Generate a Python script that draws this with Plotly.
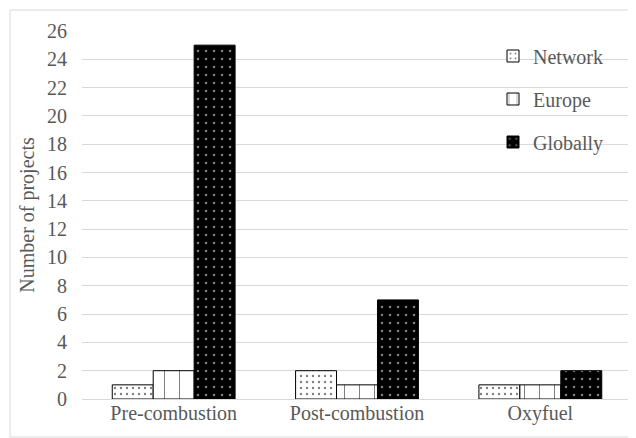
import plotly.graph_objects as go

categories = ["Pre-combustion", "Post-combustion", "Oxyfuel"]
network = [1, 2, 1]
europe = [2, 1, 1]
globally = [25, 7, 2]
y_ticks = list(range(0, 27, 2))

font_family = "Liberation Serif, Times New Roman, serif"
grey = "#595959"
fs = 20

W, H = 628, 430
ML, MR, MT, MB = 74, 4, 23, 39
PW = W - ML - MR
PH = H - MT - MB


def px_x(fx):
    return (fx - ML) / PW


def px_y(fy):
    return (H - MB - fy) / PH


fig = go.Figure()
fig.add_trace(go.Bar(
    name="Network", x=categories, y=network, legend="legend", showlegend=True,
    marker=dict(color="white", line=dict(color="black", width=1),
                pattern=dict(shape=".", fgcolor="black", bgcolor="white", size=6, solidity=0.12)),
))
fig.add_trace(go.Bar(
    name="Europe", x=categories, y=europe, legend="legend2", showlegend=True,
    marker=dict(color="white", line=dict(color="black", width=1),
                pattern=dict(shape="|", fgcolor="black", bgcolor="white", size=15, solidity=0.07)),
))
fig.add_trace(go.Bar(
    name="Globally", x=categories, y=globally, legend="legend3", showlegend=True,
    marker=dict(color="black", line=dict(color="black", width=1),
                pattern=dict(shape=".", fgcolor="white", bgcolor="black", size=8, solidity=0.08)),
))

legend_common = dict(font=dict(family=font_family, size=fs, color=grey),
                     bgcolor="rgba(0,0,0,0)", xanchor="left", yanchor="middle",
                     itemwidth=30)
lx = px_x(485)
fig.update_layout(
    width=W, height=H,
    margin=dict(l=ML, r=MR, t=MT, b=MB),
    paper_bgcolor="white", plot_bgcolor="white",
    showlegend=True,
    barmode="group", bargap=0.33, bargroupgap=0,
    font=dict(family=font_family, size=fs, color=grey),
    legend=dict(x=lx, y=px_y(48), **legend_common),
    legend2=dict(x=lx, y=px_y(91), **legend_common),
    legend3=dict(x=lx, y=px_y(134), **legend_common),
    xaxis=dict(showgrid=False, showline=False, ticks="", automargin=False,
               tickfont=dict(family=font_family, size=fs, color=grey)),
    yaxis=dict(range=[0, 26], tickvals=y_ticks, showgrid=True, gridcolor="#d9d9d9",
               gridwidth=1, zeroline=True, zerolinecolor="#d9d9d9", zerolinewidth=1,
               showline=False, ticks="", ticklabelstandoff=14, automargin=False,
               tickfont=dict(family=font_family, size=fs, color=grey),
               title=dict(text="Number of projects", standoff=7,
                          font=dict(family=font_family, size=fs, color=grey))),
    shapes=[dict(type="rect", xref="paper", yref="paper",
                 x0=px_x(2), x1=px_x(627),
                 y0=px_y(429), y1=px_y(2),
                 line=dict(color="#d9d9d9", width=1), fillcolor="rgba(0,0,0,0)",
                 layer="below")],
)

fig.write_html("out.html")
